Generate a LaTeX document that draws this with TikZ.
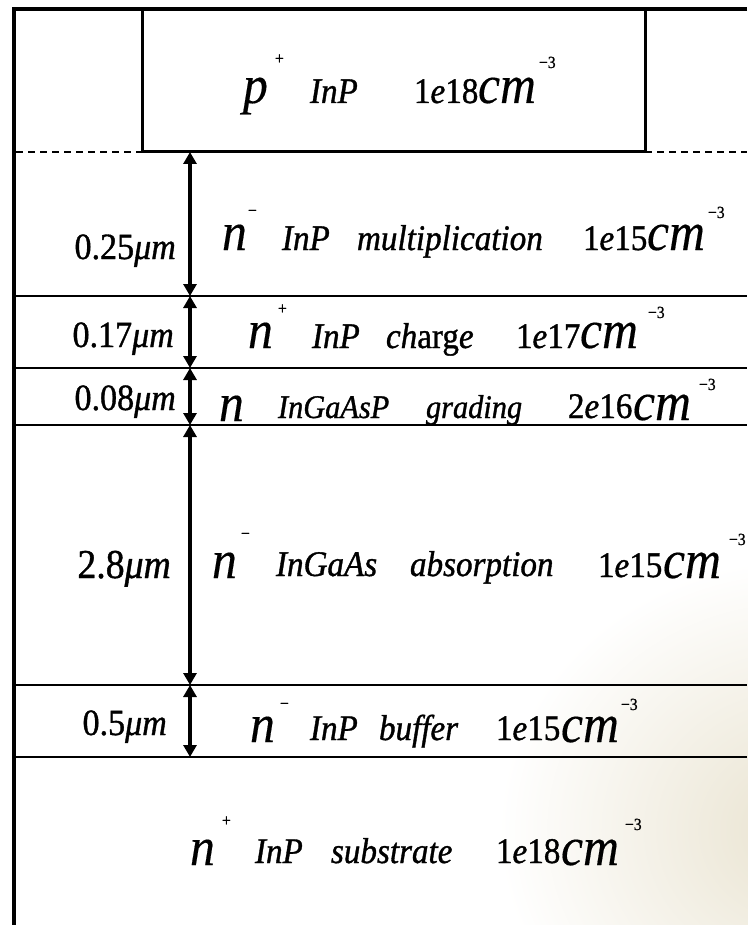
\documentclass[tikz,border=0pt]{standalone}
\usepackage{fontspec}
\setmainfont{Liberation Serif}[FakeStretch=0.92, FakeBold=1.0]
\newfontfamily\bigfam{Liberation Serif}[FakeStretch=0.92, FakeBold=0.3]
\usetikzlibrary{arrows.meta,fadings}
\definecolor{hazebeige}{RGB}{233,227,208}
\tikzfading[name=hazefade, inner color=transparent!0, outer color=transparent!100]
\begin{document}
\begin{tikzpicture}[x=1pt,y=-1pt,
  txt/.style={anchor=base west, inner sep=0pt, outer sep=0pt},
  big/.style={txt, font=\bigfam\fontsize{54}{54}\selectfont\itshape},
  mid/.style={txt, font=\fontsize{36}{36}\selectfont},
  midit/.style={txt, font=\fontsize{36}{36}\selectfont\itshape},
  sup/.style={txt, font=\fontsize{17}{17}\selectfont},
  lbl/.style={anchor=base east, inner sep=0pt, font=\fontsize{37}{37}\selectfont},
  frame/.style={line width=4.5pt, line join=miter},
  capbox/.style={line width=3pt},
  layer/.style={line width=2.3pt},
  edge/.style={line width=2.5pt, dash pattern=on 7pt off 5pt},
  dim/.style={line width=3.5pt, {Triangle[length=12pt,width=13pt]}-{Triangle[length=12pt,width=13pt]}}
]
\useasboundingbox (0,0) rectangle (747,925);

% soft stain in the lower right corner
\fill[hazebeige, path fading=hazefade] (500,560) rectangle (1100,1100);

% outer frame and top contact
\draw[frame] (747,9) -- (14,9) -- (14,925);
\draw[capbox] (142,9) rectangle (645,152);
\draw[edge] (16,152) -- (142,152);
\draw[edge] (645,152) -- (747,152);

% layer boundaries
\foreach \yy in {296,368,425,685,757}
  \draw[layer] (16,\yy) -- (747,\yy);

% thickness arrows
\coordinate (t0) at (190,152);
\coordinate (t1) at (190,296);
\coordinate (t2) at (190,368);
\coordinate (t3) at (190,425);
\coordinate (t4) at (190,685);
\coordinate (t5) at (190,757);
\draw[dim] (t0) -- (t1);
\draw[dim] (t1) -- (t2);
\draw[dim] (t2) -- (t3);
\draw[dim] (t3) -- (t4);
\draw[dim] (t4) -- (t5);

% p+ contact
\node[big] (pP) at (243,103) {p};
\node[sup] (pPlus) at (275,64) {+};
\node[midit] (pInP) at (310,103) {InP};
\node[mid] (pDop) at (414,103) {1\textit{e}18};
\node[big] (pCm) at (478,103) {cm};
\node[sup] (pExp) at (539,68) {−3};

% multiplication layer
\node[lbl] (mThk) at (176,259) {0.25\textit{μm}};
\node[big] (mN) at (222,250) {n};
\node[sup] (mMinus) at (248,216) {−};
\node[midit] (mInP) at (282,250) {InP};
\node[midit] (mName) at (357,250) {multiplication};
\node[mid] (mDop) at (583,250) {1\textit{e}15};
\node[big] (mCm) at (647,250) {cm};
\node[sup] (mExp) at (708,218) {−3};

% charge layer
\node[lbl] (cThk) at (174,347) {0.17\textit{μm}};
\node[big] (cN) at (248,348) {n};
\node[sup] (cPlus) at (278,314) {+};
\node[midit] (cInP) at (312,348) {InP};
\node[midit] (cName) at (386,348) {ch\textup{arg}e};
\node[mid] (cDop) at (516,348) {1\textit{e}17};
\node[big] (cCm) at (580,348) {cm};
\node[sup] (cExp) at (648,318) {−3};

% grading layer
\node[lbl] (gThk) at (176,410) {0.08\textit{μm}};
\node[big] (gN) at (219,421) {n};
\node[midit, font=\fontsize{33}{33}\selectfont\itshape] (gInP) at (278,418) {InGaAsP};
\node[midit, font=\fontsize{33}{33}\selectfont\itshape] (gName) at (426,418) {grading};
\node[mid] (gDop) at (568,418) {2\textit{e}16};
\node[big] (gCm) at (633,420) {cm};
\node[sup] (gExp) at (699,390) {−3};

% absorption layer
\node[lbl, font=\fontsize{41}{41}\selectfont] (aThk) at (171,578) {2.8\textit{μm}};
\node[big] (aN) at (212,578) {n};
\node[sup] (aMinus) at (241,539) {−};
\node[midit] (aInP) at (276,576) {InGaAs};
\node[midit] (aName) at (410,576) {absorption};
\node[mid] (aDop) at (598,577) {1\textit{e}15};
\node[big] (aCm) at (663,578) {cm};
\node[sup] (aExp) at (729,545) {−3};

% buffer layer
\node[lbl] (bThk) at (167,735) {0.5\textit{μm}};
\node[big] (bN) at (250,742) {n};
\node[sup] (bMinus) at (280,709) {−};
\node[midit] (bInP) at (310,740) {InP};
\node[midit] (bName) at (379,740) {buffer};
\node[mid] (bDop) at (496,740) {1\textit{e}15};
\node[big] (bCm) at (561,742) {cm};
\node[sup] (bExp) at (621,710) {−3};

% substrate
\node[big] (sN) at (190,865) {n};
\node[sup] (sPlus) at (222,826) {+};
\node[midit] (sInP) at (255,863) {InP};
\node[midit] (sName) at (331,863) {substrate};
\node[mid] (sDop) at (496,863) {1\textit{e}18};
\node[big] (sCm) at (561,865) {cm};
\node[sup] (sExp) at (625,830) {−3};
\end{tikzpicture}
\end{document}
